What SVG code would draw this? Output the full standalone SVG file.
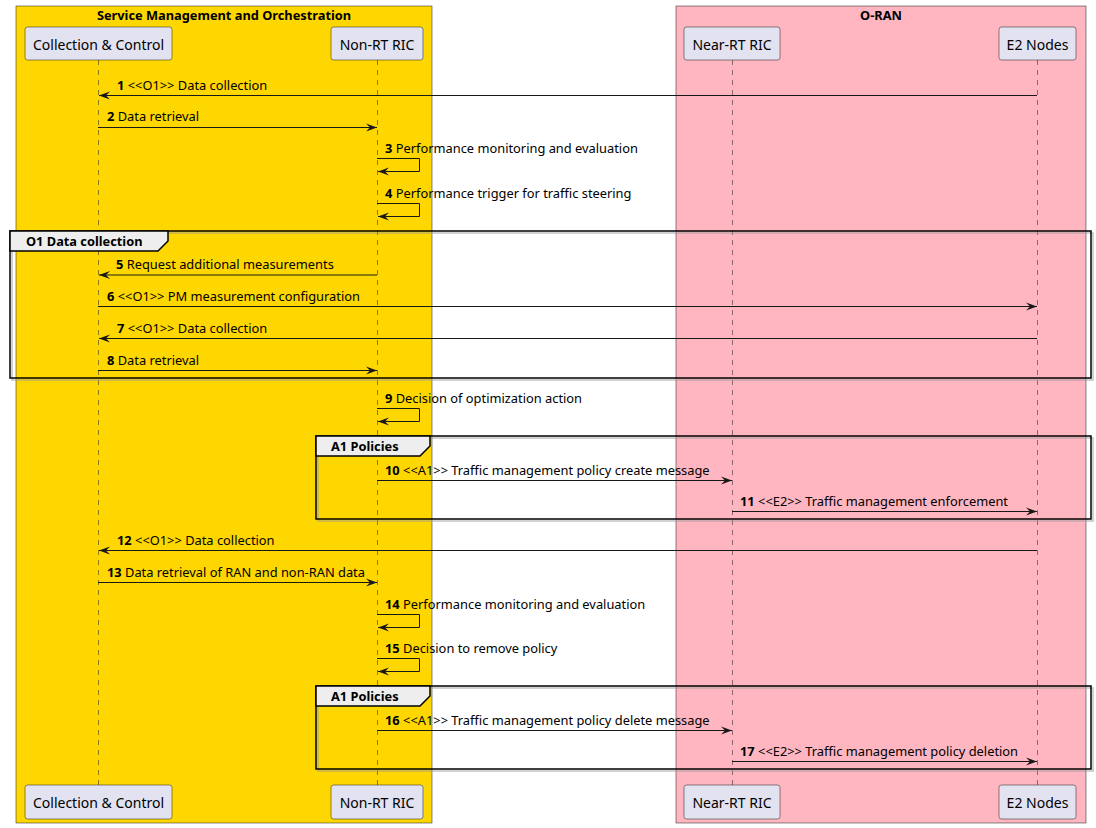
<svg xmlns="http://www.w3.org/2000/svg" width="1096" height="828" viewBox="0 0 1096 828">
<style>
text{font-family:"Noto Sans","DejaVu Sans",sans-serif;fill:#000}
.ttl{font-size:12.8px;font-weight:bold}
.pt{font-size:14px}
.m{font-size:12.85px}
.b{font-weight:bold}
.pbox{fill:#E2E2F0;stroke:#181818;stroke-width:0.5}
.life{stroke:#181818;stroke-width:0.5;stroke-dasharray:5,5;fill:none}
.msg{stroke:#181818;stroke-width:1;fill:none}
.frame{fill:none;stroke:#000;stroke-width:1.5}
.shadow{fill:none;stroke:#999;stroke-width:1.5;opacity:0.6}
.tab{fill:#EEEEEE;stroke:#000;stroke-width:1.5}
</style>
<defs>
<marker id="ah" markerWidth="12" markerHeight="10" refX="11" refY="5" orient="auto" markerUnits="userSpaceOnUse">
<polygon points="0,1 11,5 0,9 4,5" fill="#181818"/>
</marker>
</defs>
<rect width="1096" height="828" fill="#FFFFFF"/>
<g id="box-smo">
<rect x="16" y="6" width="416" height="817" fill="#FFD700" stroke="#181818" stroke-width="0.5"/>
<text class="ttl" x="224" y="20" text-anchor="middle">Service Management and Orchestration</text>
</g>
<g id="box-oran">
<rect x="676" y="6" width="410" height="817" fill="#FFB6C1" stroke="#181818" stroke-width="0.5"/>
<text class="ttl" x="881" y="20" text-anchor="middle">O-RAN</text>
</g>
<g id="lifelines">
<line class="life" x1="98.5" y1="60" x2="98.5" y2="785"/>
<line class="life" x1="377.5" y1="60" x2="377.5" y2="785"/>
<line class="life" x1="732.5" y1="60" x2="732.5" y2="785"/>
<line class="life" x1="1037.5" y1="60" x2="1037.5" y2="785"/>
</g>
<g id="p-cc">
<rect class="pbox" x="25" y="27" width="147" height="33" rx="2.5"/>
<text class="pt" x="98.5" y="49.5" text-anchor="middle">Collection &amp; Control</text>
<rect class="pbox" x="25" y="785" width="147" height="34" rx="2.5"/>
<text class="pt" x="98.5" y="807.5" text-anchor="middle">Collection &amp; Control</text>
</g>
<g id="p-nonrt">
<rect class="pbox" x="331" y="27" width="92" height="33" rx="2.5"/>
<text class="pt" x="377" y="49.5" text-anchor="middle">Non-RT RIC</text>
<rect class="pbox" x="331" y="785" width="92" height="34" rx="2.5"/>
<text class="pt" x="377" y="807.5" text-anchor="middle">Non-RT RIC</text>
</g>
<g id="p-nearrt">
<rect class="pbox" x="684" y="27" width="96" height="33" rx="2.5"/>
<text class="pt" x="732" y="49.5" text-anchor="middle">Near-RT RIC</text>
<rect class="pbox" x="684" y="785" width="96" height="34" rx="2.5"/>
<text class="pt" x="732" y="807.5" text-anchor="middle">Near-RT RIC</text>
</g>
<g id="p-e2">
<rect class="pbox" x="999" y="27" width="77" height="33" rx="2.5"/>
<text class="pt" x="1037.5" y="49.5" text-anchor="middle">E2 Nodes</text>
<rect class="pbox" x="999" y="785" width="77" height="34" rx="2.5"/>
<text class="pt" x="1037.5" y="807.5" text-anchor="middle">E2 Nodes</text>
</g>
<g id="group-o1">
<rect class="shadow" x="12" y="233" width="1081" height="147"/>
<rect class="frame" x="10" y="231" width="1081" height="147"/>
<path class="tab" d="M10,231 L168,231 L168,241 L158,251 L10,251 Z"/>
<text class="ttl" x="26" y="246">O1 Data collection</text>
</g>
<g id="group-a1-1">
<rect class="shadow" x="318" y="438" width="775" height="83"/>
<rect class="frame" x="316" y="436" width="775" height="83"/>
<path class="tab" d="M316,436 L430,436 L430,446 L420,456 L316,456 Z"/>
<text class="ttl" x="331" y="451">A1 Policies</text>
</g>
<g id="group-a1-2">
<rect class="shadow" x="318" y="688" width="775" height="83"/>
<rect class="frame" x="316" y="686" width="775" height="83"/>
<path class="tab" d="M316,686 L430,686 L430,696 L420,706 L316,706 Z"/>
<text class="ttl" x="331" y="701">A1 Policies</text>
</g>
<g id="connectors">
<line class="msg" x1="1037" y1="95.5" x2="99" y2="95.5" marker-end="url(#ah)"/>
<text class="m" x="117" y="90"><tspan class="b">1</tspan> &lt;&lt;O1&gt;&gt; Data collection</text>
<line class="msg" x1="98" y1="127.5" x2="377" y2="127.5" marker-end="url(#ah)"/>
<text class="m" x="107" y="121"><tspan class="b">2</tspan> Data retrieval</text>
<polyline class="msg" points="377,158.5 419.5,158.5 419.5,171.5 378,171.5" marker-end="url(#ah)"/>
<text class="m" x="385" y="152.5"><tspan class="b">3</tspan> Performance monitoring and evaluation</text>
<polyline class="msg" points="377,203.5 419.5,203.5 419.5,216.5 378,216.5" marker-end="url(#ah)"/>
<text class="m" x="385" y="197.5"><tspan class="b">4</tspan> Performance trigger for traffic steering</text>
<line class="msg" x1="377" y1="275" x2="99" y2="275" marker-end="url(#ah)"/>
<text class="m" x="116" y="269"><tspan class="b">5</tspan> Request additional measurements</text>
<line class="msg" x1="98" y1="306.5" x2="1037" y2="306.5" marker-end="url(#ah)"/>
<text class="m" x="107" y="300.5"><tspan class="b">6</tspan> &lt;&lt;O1&gt;&gt; PM measurement configuration</text>
<line class="msg" x1="1037" y1="338.5" x2="99" y2="338.5" marker-end="url(#ah)"/>
<text class="m" x="117" y="332.5"><tspan class="b">7</tspan> &lt;&lt;O1&gt;&gt; Data collection</text>
<line class="msg" x1="98" y1="370.5" x2="377" y2="370.5" marker-end="url(#ah)"/>
<text class="m" x="107" y="364.5"><tspan class="b">8</tspan> Data retrieval</text>
<polyline class="msg" points="377,408.5 419.5,408.5 419.5,421.5 378,421.5" marker-end="url(#ah)"/>
<text class="m" x="385" y="402.5"><tspan class="b">9</tspan> Decision of optimization action</text>
<line class="msg" x1="377" y1="480.5" x2="732" y2="480.5" marker-end="url(#ah)"/>
<text class="m" x="385" y="474.5"><tspan class="b">10</tspan> &lt;&lt;A1&gt;&gt; Traffic management policy create message</text>
<line class="msg" x1="732" y1="511.5" x2="1037" y2="511.5" marker-end="url(#ah)"/>
<text class="m" x="740" y="505.5"><tspan class="b">11</tspan> &lt;&lt;E2&gt;&gt; Traffic management enforcement</text>
<line class="msg" x1="1037" y1="550.5" x2="99" y2="550.5" marker-end="url(#ah)"/>
<text class="m" x="117" y="544.5"><tspan class="b">12</tspan> &lt;&lt;O1&gt;&gt; Data collection</text>
<line class="msg" x1="98" y1="582.5" x2="377" y2="582.5" marker-end="url(#ah)"/>
<text class="m" x="107" y="576.5"><tspan class="b">13</tspan> Data retrieval of RAN and non-RAN data</text>
<polyline class="msg" points="377,614.5 419.5,614.5 419.5,627.5 378,627.5" marker-end="url(#ah)"/>
<text class="m" x="385" y="608.5"><tspan class="b">14</tspan> Performance monitoring and evaluation</text>
<polyline class="msg" points="377,658.5 419.5,658.5 419.5,671.5 378,671.5" marker-end="url(#ah)"/>
<text class="m" x="385" y="652.5"><tspan class="b">15</tspan> Decision to remove policy</text>
<line class="msg" x1="377" y1="730.5" x2="732" y2="730.5" marker-end="url(#ah)"/>
<text class="m" x="385" y="724.5"><tspan class="b">16</tspan> &lt;&lt;A1&gt;&gt; Traffic management policy delete message</text>
<line class="msg" x1="732" y1="761.5" x2="1037" y2="761.5" marker-end="url(#ah)"/>
<text class="m" x="740" y="755.5"><tspan class="b">17</tspan> &lt;&lt;E2&gt;&gt; Traffic management policy deletion</text>
</g>
</svg>
